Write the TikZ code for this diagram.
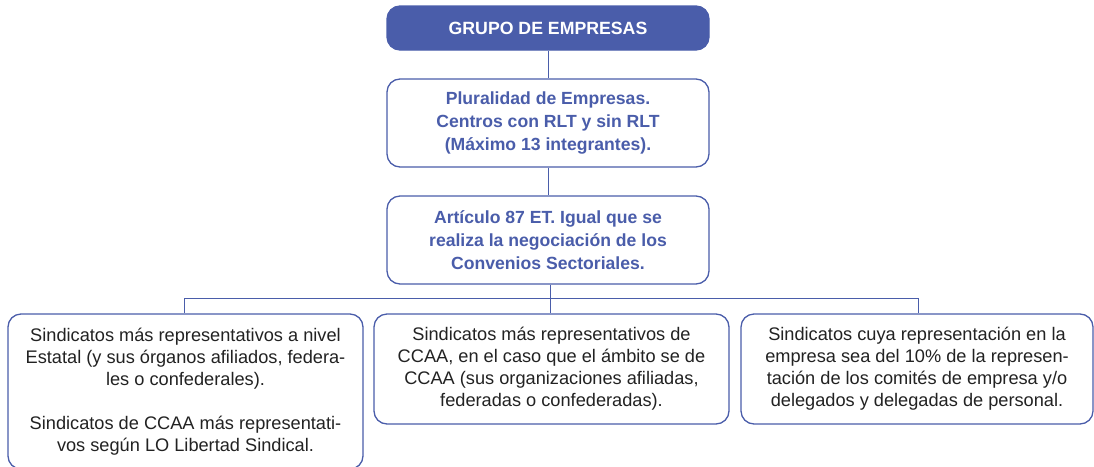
\documentclass[tikz,border=0pt]{standalone}
\usepackage{fontspec}
\setmainfont{Liberation Sans}
\definecolor{mainblue}{HTML}{4A5DAA}
\definecolor{txtgray}{HTML}{222222}
\begin{document}
\begin{tikzpicture}[x=1pt,y=-1pt,
  box/.style={draw=mainblue, line width=1.3pt, rounded corners=13pt, fill=white, inner sep=0pt, align=center},
  head/.style={box, fill=mainblue, text=white, font=\fontsize{17.7}{20}\selectfont\bfseries},
  bluebox/.style={box, text=mainblue, font=\fontsize{17.6}{23}\selectfont\bfseries},
  graybox/.style={box, text=txtgray, font=\fontsize{18.2}{22}\selectfont},
  conn/.style={draw=mainblue, line width=1pt}]
\useasboundingbox (0,0) rectangle (1094,466);
\clip (0,0) rectangle (1094,466);
\node[head, minimum width=322pt, minimum height=44pt] (g) at (548,28) {GRUPO DE EMPRESAS};
\node[bluebox, minimum width=322pt, minimum height=88pt] (p) at (548,123) {Pluralidad de Empresas.\\Centros con RLT y sin RLT\\(Máximo 13 integrantes).};
\node[bluebox, minimum width=322pt, minimum height=88pt] (a) at (548,240) {Artículo 87 ET. Igual que se\\realiza la negociación de los\\Convenios Sectoriales.};
\node[graybox, minimum width=355pt, minimum height=155pt] (l) at (185.5,391.5) {Sindicatos más representativos a nivel\\Estatal (y sus órganos afiliados, federa-\\les o confederales).\\[22pt]Sindicatos de CCAA más representati-\\vos según LO Libertad Sindical.};
\node[graybox, minimum width=355pt, minimum height=110pt] (c) at (551.5,369) {Sindicatos más representativos de\\CCAA, en el caso que el ámbito se de\\CCAA (sus organizaciones afiliadas,\\federadas o confederadas).};
\node[graybox, minimum width=352pt, minimum height=110pt] (r) at (917,369) {Sindicatos cuya representación en la\\empresa sea del 10\% de la represen-\\tación de los comités de empresa y/o\\delegados y delegadas de personal.};
\coordinate (hl) at (184,298);
\coordinate (hc) at (550,298);
\coordinate (hr) at (918,298);
\draw[conn] (g.south) -- (p.north);
\draw[conn] (p.south) -- (a.north);
\draw[conn] (a.south -| hc) -- (hc);
\draw[conn] (hl) -- (hr);
\draw[conn] (hl) -- (hl |- l.north);
\draw[conn] (hc) -- (hc |- c.north);
\draw[conn] (hr) -- (hr |- r.north);
\end{tikzpicture}
\end{document}
